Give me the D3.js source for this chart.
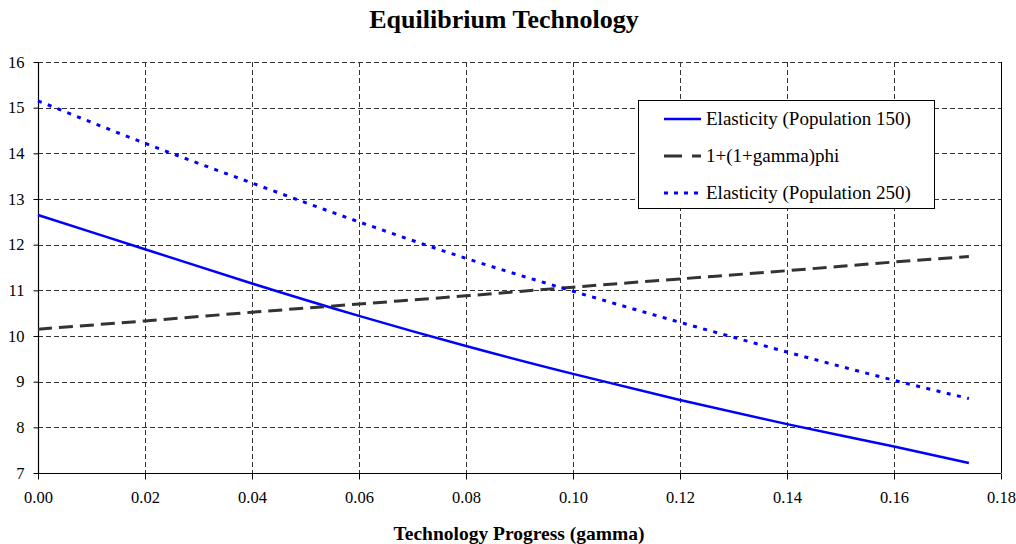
<!DOCTYPE html>
<html><head><meta charset="utf-8">
<script src="https://cdn.jsdelivr.net/npm/d3@7"></script>
<style>body{margin:0;background:#fff}svg{display:block}text{font-family:'Liberation Serif','Times New Roman',serif}</style>
</head><body><svg id="c" width="1016" height="544"></svg>
<script>
const gammaVals = [0, 0.02, 0.04, 0.06, 0.08, 0.10, 0.12, 0.14, 0.16, 0.174];
const elast150 = [12.65, 11.9, 11.15, 10.44, 9.78, 9.17, 8.6, 8.07, 7.58, 7.22];
const phiLine  = [10.15, 10.33, 10.52, 10.7, 10.88, 11.07, 11.25, 11.43, 11.62, 11.74];
const elast250 = [15.15, 14.22, 13.35, 12.5, 11.7, 10.98, 10.3, 9.65, 9.03, 8.63];
const xTicks = [0, 0.02, 0.04, 0.06, 0.08, 0.10, 0.12, 0.14, 0.16, 0.18];
const yTicks = [7, 8, 9, 10, 11, 12, 13, 14, 15, 16];
const seriesNames = ["Elasticity (Population 150)", "1+(1+gamma)phi", "Elasticity (Population 250)"];

const svg = d3.select("#c");
const L = 38, R = 1001, T = 62, B = 473;
const x = d3.scaleLinear().domain([0, 0.18]).range([L, R]);
const y = d3.scaleLinear().domain([7, 16]).range([B, T]);
const font = "'Liberation Serif','Times New Roman',serif";
const gridCol = "#333";

// grid
const g = svg.append("g");
g.selectAll("line.h").data(yTicks.slice(1, -1)).join("line")
  .attr("x1", L).attr("x2", R).attr("y1", d => Math.round(y(d)) + 0.5).attr("y2", d => Math.round(y(d)) + 0.5)
  .attr("stroke", gridCol).attr("stroke-dasharray", "5,3");
g.selectAll("line.v").data(xTicks.slice(1, -1)).join("line")
  .attr("y1", T).attr("y2", B).attr("x1", d => Math.round(x(d)) + 0.5).attr("x2", d => Math.round(x(d)) + 0.5)
  .attr("stroke", gridCol).attr("stroke-dasharray", "5,3");
svg.append("line").attr("x1", L).attr("x2", R).attr("y1", T + 0.5).attr("y2", T + 0.5).attr("stroke", gridCol).attr("stroke-dasharray", "5,3");
svg.append("line").attr("x1", R + 0.5).attr("x2", R + 0.5).attr("y1", T).attr("y2", B).attr("stroke", "#000");

// axes
const xAxis = d3.axisBottom(x).tickValues(xTicks).tickFormat(d3.format(".2f")).tickSize(6).tickPadding(12);
const yAxis = d3.axisLeft(y).tickValues(yTicks).tickFormat(d3.format("d")).tickSize(5).tickPadding(9);
const gx = svg.append("g").attr("transform", `translate(0,${B + 0.5})`).call(xAxis);
const gy = svg.append("g").attr("transform", `translate(${L + 0.5},0)`).call(yAxis);
[gx, gy].forEach(a => {
  a.attr("font-family", null);
  a.select(".domain").attr("stroke", "#000").attr("stroke-width", 1.2);
  a.selectAll(".tick line").attr("stroke", "#000");
  a.selectAll("text").style("font-family", font).style("font-size", "16.5px").attr("fill", "#000");
});
gy.select(".domain").attr("d", `M0,${T}V${B}`);
gx.select(".domain").attr("d", `M${L},0H${R}`);

// lines
const line = vals => d3.line().curve(d3.curveMonotoneX).x((d, i) => x(gammaVals[i])).y(d => y(d))(vals);
const styles = [
  {stroke: "#0000ff", w: 2.5, dash: null},
  {stroke: "#333333", w: 3, dash: "14,7"},
  {stroke: "#0000ff", w: 3, dash: "4,6.5"}
];
[elast150, phiLine, elast250].forEach((vals, i) => {
  svg.append("path").attr("d", line(vals)).attr("fill", "none")
    .attr("stroke", styles[i].stroke).attr("stroke-width", styles[i].w)
    .attr("stroke-dasharray", styles[i].dash);
});

// legend
const lg = svg.append("g");
lg.append("rect").attr("x", 638.5).attr("y", 100.5).attr("width", 296).attr("height", 108)
  .attr("fill", "#fff").attr("stroke", "#000").attr("stroke-width", 1);
const rowY = [119, 156, 193];
seriesNames.forEach((n, i) => {
  lg.append("line").attr("x1", 664).attr("x2", 701).attr("y1", rowY[i]).attr("y2", rowY[i])
    .attr("stroke", styles[i].stroke).attr("stroke-width", styles[i].w)
    .attr("stroke-dasharray", i === 1 ? "18,10" : (i === 2 ? "4,6" : null));
  lg.append("text").attr("x", 706).attr("y", rowY[i] + 6).text(n)
    .style("font-family", font).style("font-size", "19px").attr("fill", "#000");
});

// titles
svg.append("text").attr("x", 504).attr("y", 28).attr("text-anchor", "middle")
  .style("font-family", font).style("font-weight", "bold").style("font-size", "26px").text("Equilibrium Technology");
svg.append("text").attr("x", 519).attr("y", 540).attr("text-anchor", "middle")
  .style("font-family", font).style("font-weight", "bold").style("font-size", "19.5px").text("Technology Progress (gamma)");
</script></body></html>
